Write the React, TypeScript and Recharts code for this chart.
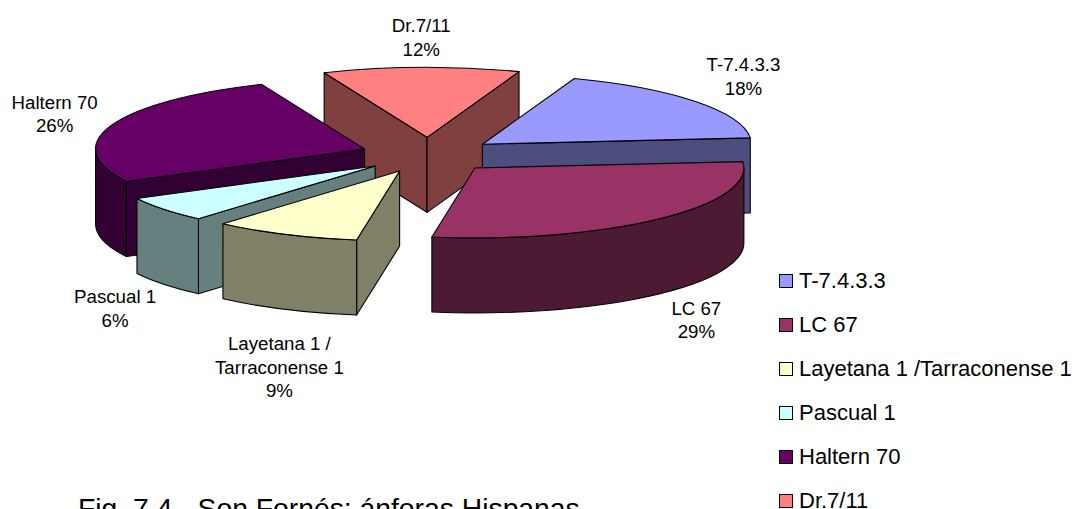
import React from "react";
import { PieChart, Pie, Legend } from "recharts";

const NAMES = ["T-7.4.3.3", "LC 67", "Layetana 1 /Tarraconense 1", "Pascual 1", "Haltern 70", "Dr.7/11"];
const VALUES = [18, 29, 8.85, 5.9, 26.45, 11.8];
const TOP_COLORS = ["#9999FF", "#993366", "#FFFFCC", "#CCFFFF", "#660066", "#FF8080"];
const SIDE_COLORS = ["#4D4D80", "#4D1A33", "#808066", "#668080", "#330033", "#804040"];
const LABEL_LINES = [["T-7.4.3.3"], ["LC 67"], ["Layetana 1 /", "Tarraconense 1"], ["Pascual 1"], ["Haltern 70"], ["Dr.7/11"]];
const LABEL_OFFSETS = [[48, -25], [38, 101], [-6, 133], [-49, 99], [-57, -11], [0, -30]];
const PAINT_ORDER = ["Dr.7/11", "T-7.4.3.3", "Haltern 70", "LC 67", "Pascual 1", "Layetana 1 /Tarraconense 1"];
const TITLE = "Fig. 7.4.- Son Fornés: ánforas Hispanas";

const FONT = "'Liberation Sans', Arial, sans-serif";
const SQUASH = 0.26;
const DEPTH = 75;
const EXPLODE = 68;
const RAD = Math.PI / 180;

const rows = NAMES.map((name, i) => ({ name, value: VALUES[i], fill: TOP_COLORS[i] }));

const project = (cx: number, cy: number, r: number, deg: number): [number, number] => [
  cx + r * Math.cos(deg * RAD),
  cy - r * SQUASH * Math.sin(deg * RAD),
];

function sliceShape(target: string) {
  return (props: any) => {
    if (props.name !== target) return <g />;
    const { cx, cy, outerRadius: r, startAngle, endAngle, midAngle, fill } = props;
    const side = SIDE_COLORS[NAMES.indexOf(target)];
    const a0 = Math.max(startAngle, endAngle);
    const a1 = Math.min(startAngle, endAngle);
    const [ox, oy] = project(cx, cy, EXPLODE, midAngle);
    const pt = (deg: number) => project(ox, oy, r, deg);
    const [sx, sy] = pt(a0);
    const [ex, ey] = pt(a1);
    const ry = r * SQUASH;
    const arc = (x: number, y: number) => `A ${r} ${ry} 0 0 1 ${x} ${y}`;
    const style = { stroke: "#000", strokeWidth: 1.1, strokeLinejoin: "round" as const };
    const faces: React.ReactNode[] = [];
    // Radial walls: drawn only when they face the viewer
    if (Math.cos(a0 * RAD) < 0) {
      faces.push(<path key="w0" fill={side} {...style} d={`M ${ox} ${oy} L ${sx} ${sy} L ${sx} ${sy + DEPTH} L ${ox} ${oy + DEPTH} Z`} />);
    }
    if (Math.cos(a1 * RAD) > 0) {
      faces.push(<path key="w1" fill={side} {...style} d={`M ${ox} ${oy} L ${ex} ${ey} L ${ex} ${ey + DEPTH} L ${ox} ${oy + DEPTH} Z`} />);
    }
    // Outer wall: the part of the arc on the lower half of the ellipse (math angles 0 to -180)
    const hi = Math.min(a0, 0);
    const lo = Math.max(a1, -180);
    if (hi > lo) {
      const [ax, ay] = pt(hi);
      const [bx, by] = pt(lo);
      faces.push(
        <path key="outer" fill={side} {...style} d={`M ${ax} ${ay} ${arc(bx, by)} L ${bx} ${by + DEPTH} A ${r} ${ry} 0 0 0 ${ax} ${ay + DEPTH} Z`} />
      );
    }
    faces.push(<path key="top" fill={fill} {...style} d={`M ${ox} ${oy} L ${sx} ${sy} ${arc(ex, ey)} Z`} />);
    return <g>{faces}</g>;
  };
}

function renderLabel(props: any) {
  const { cx, cy, midAngle, outerRadius, percent, index } = props;
  const [bx, by] = project(cx, cy, outerRadius + EXPLODE, midAngle);
  const [dx, dy] = LABEL_OFFSETS[index];
  const lines = [...LABEL_LINES[index], `${Math.round(percent * 100)}%`];
  const lh = 23.5;
  const y0 = by + dy - ((lines.length - 1) * lh) / 2 + 6.5;
  return (
    <text key={index} x={bx + dx} y={y0} textAnchor="middle" fontFamily={FONT} fontSize={18.7} fill="#000">
      {lines.map((t, i) => (
        <tspan key={i} x={bx + dx} y={y0 + i * lh}>{t}</tspan>
      ))}
    </text>
  );
}

function LegendBox({ payload }: any) {
  const seen = new Set<string>();
  const items = (payload || []).filter((p: any) => {
    if (seen.has(p.value)) return false;
    seen.add(p.value);
    return true;
  });
  return (
    <div style={{ fontFamily: FONT, fontSize: 22, color: "#000" }}>
      {items.map((p: any) => (
        <div key={p.value} style={{ height: 44, display: "flex", alignItems: "center", whiteSpace: "nowrap" }}>
          <span style={{ width: 12, height: 12, background: p.color, border: "1.2px solid #000", marginRight: 6, flex: "none" }} />
          {p.value}
        </div>
      ))}
    </div>
  );
}

export default function App() {
  return (
    <div style={{ position: "absolute", left: 0, top: 0, width: 1076, height: 509, overflow: "hidden", background: "#fff" }}>
      <PieChart width={1076} height={509} margin={{ top: 0, right: 0, bottom: 0, left: 0 }}>
        {PAINT_ORDER.map((target, i) => (
          <Pie
            key={target}
            data={rows}
            dataKey="value"
            nameKey="name"
            cx={428.5}
            cy={155}
            innerRadius={0}
            outerRadius={269}
            startAngle={70}
            endAngle={-290}
            stroke="none"
            isAnimationActive={false}
            legendType={i === 0 ? "square" : "none"}
            shape={sliceShape(target)}
            label={i === PAINT_ORDER.length - 1 ? renderLabel : false}
            labelLine={false}
          />
        ))}
        <Legend
          layout="vertical"
          align="right"
          verticalAlign="middle"
          itemSorter={null}
          content={<LegendBox />}
          wrapperStyle={{ position: "absolute", left: 779, top: 259, width: 297, right: "auto", bottom: "auto" }}
        />
      </PieChart>
      <div style={{ position: "absolute", left: 78, top: 492, fontFamily: FONT, fontSize: 28.3, lineHeight: "32px", whiteSpace: "nowrap", color: "#000" }}>
        {TITLE}
      </div>
    </div>
  );
}
